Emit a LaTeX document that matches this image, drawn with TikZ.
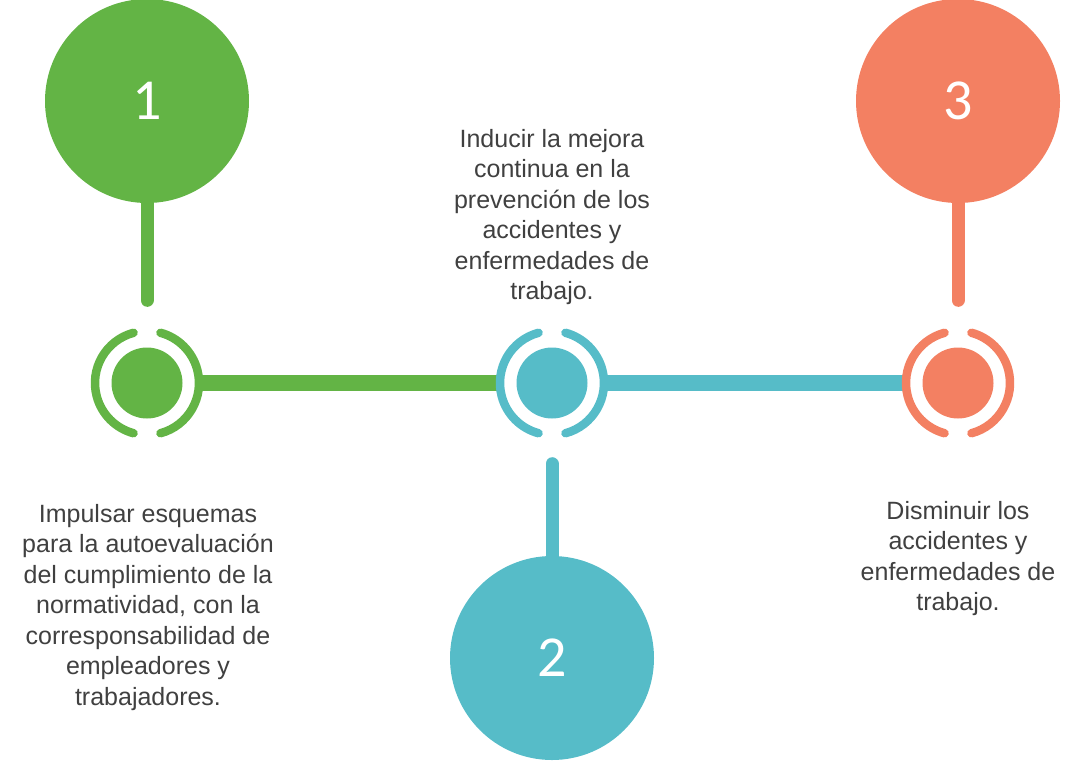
\documentclass[tikz,border=0pt]{standalone}
\usepackage{fontspec}
\usetikzlibrary{calc}
\setmainfont{Liberation Sans}
\newfontfamily\numfont{Carlito}
\definecolor{cgreen}{RGB}{99,180,69}
\definecolor{cteal}{RGB}{86,188,200}
\definecolor{csalmon}{RGB}{243,128,98}
\definecolor{ctext}{RGB}{64,64,64}
\tikzset{
  bigcirc/.style={circle, inner sep=0pt, minimum size=204pt, text=white, font=\numfont\fontsize{58}{58}\selectfont},
  dotcirc/.style={circle, inner sep=0pt, minimum size=71pt},
  ringarc/.style={line width=8.5pt, line cap=round},
  barline/.style={line width=16pt},
  stemline/.style={line width=13pt, line cap=round},
  desc/.style={align=center, text=ctext, font=\fontsize{25}{30.5}\selectfont, inner sep=0pt, anchor=north},
}
\begin{document}
\begin{tikzpicture}[x=1pt,y=-1pt]
\useasboundingbox (0,0) rectangle (1084,761);
% positions
\coordinate (p1) at (147,383);
\coordinate (p2) at (552,383);
\coordinate (p3) at (958,383);
% bars
\draw[barline, cgreen, shorten <=52pt, shorten >=52pt] (p1) -- (p2);
\draw[barline, cteal, shorten <=52pt, shorten >=52pt] (p2) -- (p3);
% rings
\foreach \p/\c in {p1/cgreen, p2/cteal, p3/csalmon}{
  \draw[ringarc, \c] ($(\p)+(105:52pt)$) arc[start angle=105, end angle=255, radius=52pt];
  \draw[ringarc, \c] ($(\p)+(-75:52pt)$) arc[start angle=-75, end angle=75, radius=52pt];
}
% inner dots
\node[dotcirc, fill=cgreen] (n1) at (p1) {};
\node[dotcirc, fill=cteal] (n2) at (p2) {};
\node[dotcirc, fill=csalmon] (n3) at (p3) {};
% big circles
\node[bigcirc, fill=cgreen] (c1) at (147,101) {1};
\node[bigcirc, fill=cteal] (c2) at (552,658) {2};
\node[bigcirc, fill=csalmon] (c3) at (958,101) {3};
% stems
\draw[stemline, cgreen, shorten >=47pt] (c1) -- (n1);
\draw[stemline, csalmon, shorten >=47pt] (c3) -- (n3);
\draw[stemline, cteal, shorten <=45pt] (n2) -- (c2);
% texts
\node[desc] (d1) at (148,504) {Impulsar esquemas\\para la autoevaluación\\del cumplimiento de la\\normatividad, con la\\corresponsabilidad de\\empleadores y\\trabajadores.};
\node[desc] (d2) at (552,129) {Inducir la mejora\\continua en la\\prevención de los\\accidentes y\\enfermedades de\\trabajo.};
\node[desc] (d3) at (958,501) {Disminuir los\\accidentes y\\enfermedades de\\trabajo.};
\end{tikzpicture}
\end{document}
